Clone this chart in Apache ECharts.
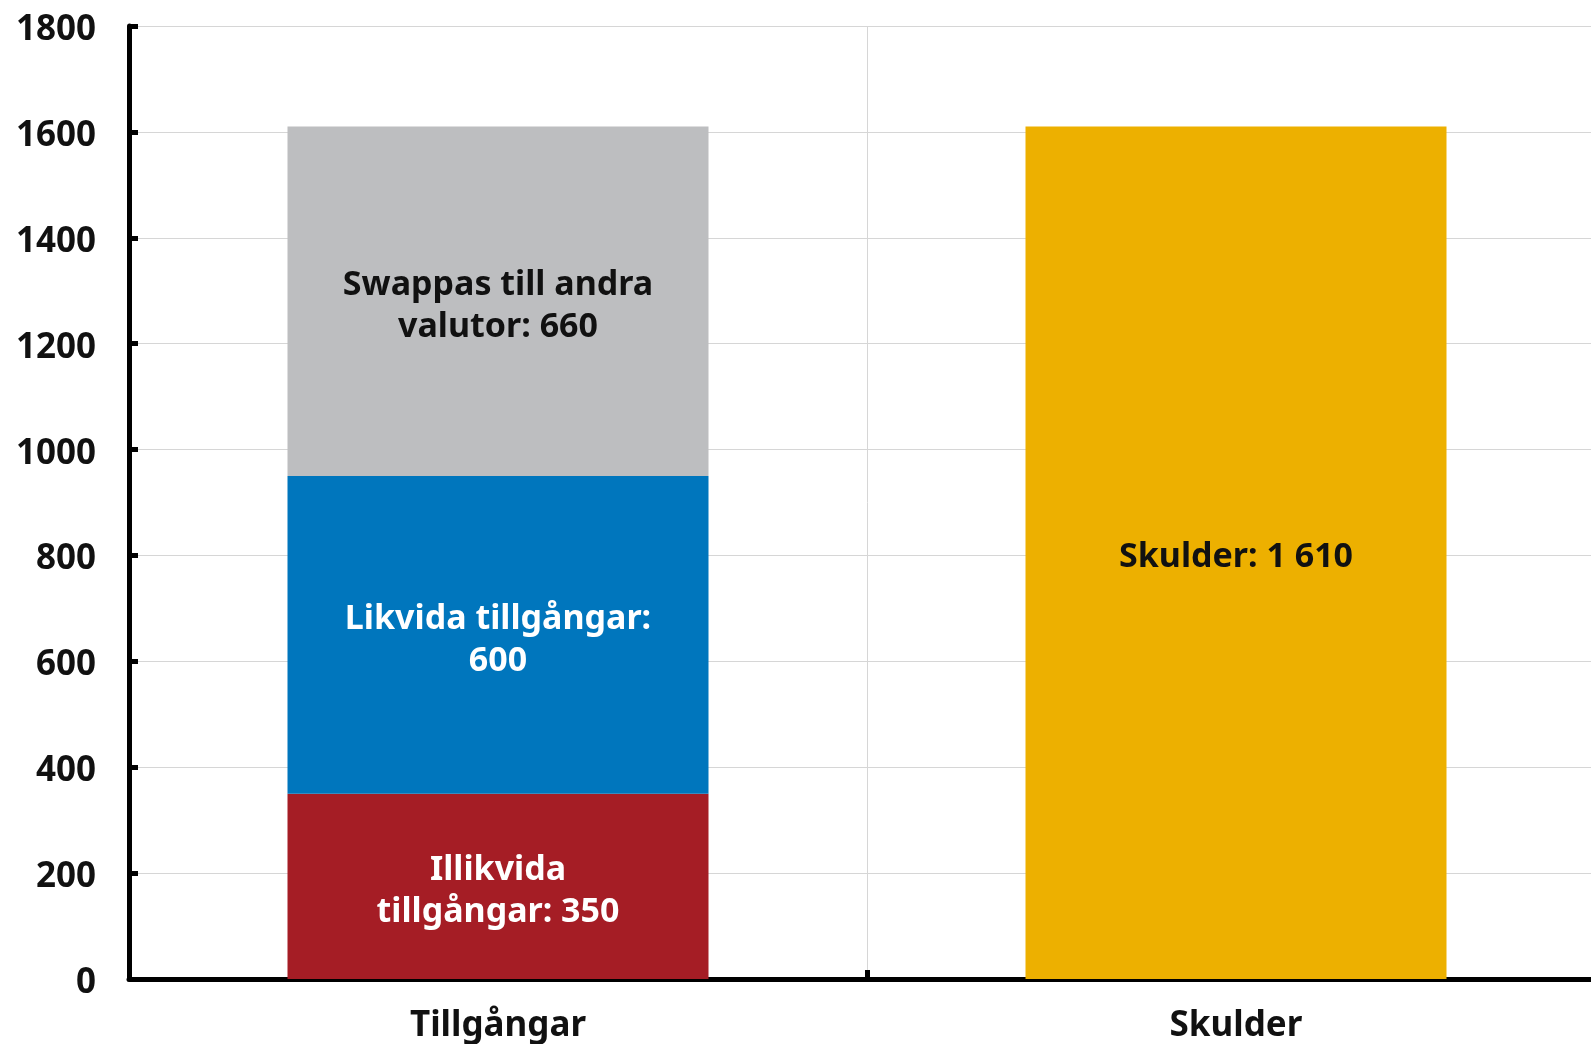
<!DOCTYPE html>
<html>
<head>
<meta charset="utf-8">
<script src="https://cdn.jsdelivr.net/npm/echarts@6/dist/echarts.min.js"></script>
<style>
  html, body { margin: 0; padding: 0; background: #ffffff; overflow: hidden; }
  /* the canvas runs a little past the window so the plot is cut off at the right edge */
  #chart { width: 1605px; height: 1044px; }
</style>
</head>
<body>
<div id="chart"></div>
<script>
// Balance: assets split by liquidity vs. liabilities
const categories = ['Tillgångar', 'Skulder'];

const illiquidAssets = [350, null];
const liquidAssets = [600, null];
const swappedAssets = [660, null];
const liabilities = [null, 1610];

const seriesNames = ['Illikvida tillgångar', 'Likvida tillgångar', 'Swappas till andra valutor', 'Skulder'];
const labelTemplates = ['Illikvida\ntillgångar: {v}', 'Likvida tillgångar:\n{v}', 'Swappas till andra\nvalutor: {v}', 'Skulder: {v}'];
const colors = ['#A51D25', '#0076BD', '#BDBEC0', '#EDB000'];
const labelColors = ['#ffffff', '#ffffff', '#111111', '#111111'];

const yTicks = { min: 0, max: 1800, interval: 200 };

const FONT = '"Noto Sans", "Open Sans", sans-serif';

// Thousands separated by a space, as in "1 610"
function fmt(v) {
  return String(v).replace(/\B(?=(\d{3})+(?!\d))/g, ' ');
}

function makeSeries(name, data, idx) {
  return {
    name: name,
    type: 'bar',
    stack: 'balance',
    data: data,
    barWidth: 421,
    itemStyle: { color: colors[idx] },
    label: {
      show: true,
      position: 'inside',
      offset: [0, 5],
      color: labelColors[idx],
      fontFamily: FONT,
      fontWeight: 'bold',
      fontSize: 34,
      lineHeight: 42,
      align: 'center',
      formatter: p => labelTemplates[idx].replace('{v}', fmt(p.value))
    }
  };
}

const chart = echarts.init(document.getElementById('chart'), null, { renderer: 'canvas' });

chart.setOption({
  animation: false,
  backgroundColor: '#ffffff',
  grid: { left: 129, right: 0, top: 26, bottom: 63, containLabel: false },
  xAxis: {
    type: 'category',
    data: categories,
    boundaryGap: true,
    axisLine: { show: true, lineStyle: { color: '#000000', width: 5 } },
    axisTick: { show: true, inside: true, length: 9, lineStyle: { color: '#000000', width: 5 } },
    splitLine: { show: true, lineStyle: { color: '#d6d6d6', width: 1 } },
    axisLabel: {
      color: '#111111',
      fontFamily: FONT,
      fontWeight: 'bold',
      fontSize: 35,
      margin: 30
    }
  },
  yAxis: {
    type: 'value',
    min: yTicks.min,
    max: yTicks.max,
    interval: yTicks.interval,
    axisLine: { show: true, lineStyle: { color: '#000000', width: 5 } },
    axisTick: { show: true, inside: true, length: 9, lineStyle: { color: '#000000', width: 5 } },
    splitLine: { show: true, lineStyle: { color: '#d6d6d6', width: 1 } },
    axisLabel: {
      margin: 33,
      formatter: v => '{n|' + v + '}',
      rich: {
        n: {
          color: '#111111',
          fontFamily: FONT,
          fontWeight: 'bold',
          fontSize: 35,
          padding: [8, 0, 0, 0]
        }
      }
    }
  },
  series: [
    makeSeries(seriesNames[0], illiquidAssets, 0),
    makeSeries(seriesNames[1], liquidAssets, 1),
    makeSeries(seriesNames[2], swappedAssets, 2),
    makeSeries(seriesNames[3], liabilities, 3)
  ]
});
</script>
</body>
</html>
